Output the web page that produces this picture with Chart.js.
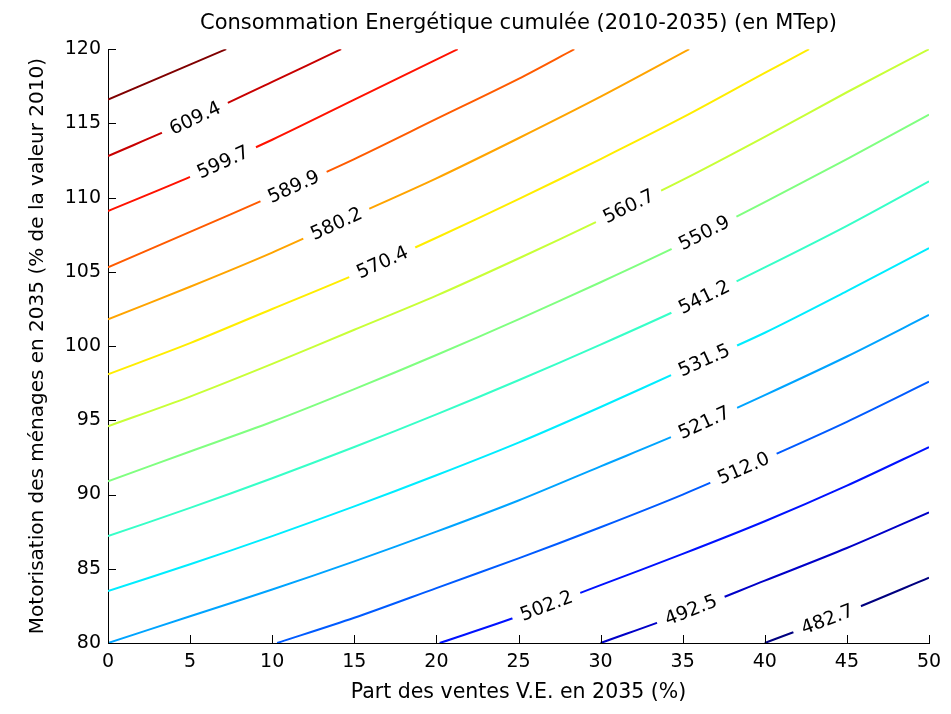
<!DOCTYPE html>
<html>
<head>
<meta charset="utf-8">
<title>Consommation Energétique cumulée (2010-2035)</title>
<script src="https://cdn.jsdelivr.net/npm/chart.js@4.4.1/dist/chart.umd.min.js"></script>
<style>
    html, body { margin: 0; padding: 0; background: #fff; }
    #wrap { width: 951px; height: 714px; position: relative; }
</style>
</head>
<body>
<div id="wrap"><canvas id="chart"></canvas></div>
<script>
// Contour levels (MTep), lowest to highest
const levels = [482.7, 492.5, 502.2, 512.0, 521.7, 531.5, 541.2, 550.9, 560.7, 570.4, 580.2, 589.9, 599.7, 609.4, 619.1];

// jet colours, one per level
const levelColors = ['#000080', '#0000C8', '#0012FF', '#005BFF', '#00A4FF', '#00EDFF', '#37FFC8', '#80FF80',
                     '#C8FF37', '#FFED00', '#FFA400', '#FF5B00', '#FF1200', '#C80000', '#800000'];

// Contour lines: [part V.E. %, motorisation %]
const c4827 = [[40, 80], [45, 82.1], [50, 84.4]];
const c4925 = [[30, 80], [35, 82.0], [40, 84.2], [45, 86.4], [50, 88.8]];
const c5022 = [[20.2, 80], [25, 81.8], [30, 83.9], [35, 86.0], [40, 88.2], [45, 90.6], [50, 93.2]];
const c5120 = [[10.3, 80], [15, 81.7], [20, 83.7], [25, 85.7], [30, 87.8], [35, 90.0], [40, 92.4], [45, 94.9], [50, 97.6]];
const c5217 = [[0, 80], [5, 81.8], [10, 83.6], [15, 85.5], [20, 87.5], [25, 89.6], [30, 91.9], [35, 94.2], [40, 96.7], [45, 99.3], [50, 102.1]];
const c5315 = [[0, 83.5], [5, 85.3], [10, 87.2], [15, 89.2], [20, 91.3], [25, 93.5], [30, 95.9], [35, 98.4], [40, 100.9], [45, 103.7], [50, 106.6]];
const c5412 = [[0, 87.2], [5, 89.1], [10, 91.1], [15, 93.2], [20, 95.4], [25, 97.7], [30, 100.1], [35, 102.6], [40, 105.3], [45, 108.1], [50, 111.1]];
const c5509 = [[0, 90.9], [5, 92.9], [10, 94.9], [15, 97.1], [20, 99.4], [25, 101.8], [30, 104.3], [35, 106.9], [40, 109.7], [45, 112.6], [50, 115.6]];
const c5607 = [[0, 94.6], [5, 96.6], [10, 98.8], [15, 101.1], [20, 103.4], [25, 105.9], [30, 108.5], [35, 111.2], [40, 114.1], [45, 117.1], [50, 120]];
const c5704 = [[0, 98.1], [5, 100.2], [10, 102.5], [15, 104.8], [20, 107.3], [25, 109.9], [30, 112.6], [35, 115.4], [40, 118.4], [42.7, 120]];
const c5802 = [[0, 101.8], [5, 104.0], [10, 106.3], [15, 108.8], [20, 111.3], [25, 114.0], [30, 116.8], [35.4, 120]];
const c5899 = [[0, 105.3], [5, 107.7], [10, 110.1], [15, 112.6], [20, 115.3], [25, 118.0], [28.4, 120]];
const c5997 = [[0, 109.1], [5, 111.4], [10, 113.9], [15, 116.6], [21.3, 120]];
const c6094 = [[0, 112.8], [5, 115.2], [10, 117.8], [14.2, 120]];
const c6191 = [[0, 116.6], [7.2, 120]];

const contours = [c4827, c4925, c5022, c5120, c5217, c5315, c5412, c5509, c5607, c5704, c5802, c5899, c5997, c6094, c6191];

// Where each inline label sits along its line (x value), null = no label
const labelX = [43.8, 35.5, 26.7, 38.7, 36.3, 36.3, 36.3, 36.3, 31.7, 16.7, 13.9, 11.3, 7.0, 5.3, null];

const xTicks = [0, 5, 10, 15, 20, 25, 30, 35, 40, 45, 50];
const yTicks = [80, 85, 90, 95, 100, 105, 110, 115, 120];

const FONT = 'DejaVu Sans';

// Labels written on the lines, with a white gap under them (like clabel)
const contourLabels = {
    id: 'contourLabels',
    afterDatasetsDraw(chart) {
        const { ctx } = chart;
        const xs = chart.scales.x, ys = chart.scales.y;
        ctx.save();
        ctx.font = '19px "' + FONT + '"';
        ctx.textAlign = 'center';
        ctx.textBaseline = 'middle';
        levels.forEach((lev, i) => {
            const lx = labelX[i];
            if (lx == null) return;
            const pts = contours[i];
            let k = 0;
            while (k < pts.length - 2 && pts[k + 1][0] < lx) k++;
            const [x1, y1] = pts[k];
            const [x2, y2] = pts[k + 1];
            const ly = y1 + (lx - x1) / (x2 - x1) * (y2 - y1);
            const px = xs.getPixelForValue(lx);
            const py = ys.getPixelForValue(ly);
            const ang = Math.atan2(ys.getPixelForValue(y2) - ys.getPixelForValue(y1),
                                   xs.getPixelForValue(x2) - xs.getPixelForValue(x1));
            const txt = lev.toFixed(1);
            const w = ctx.measureText(txt).width;
            ctx.save();
            ctx.translate(px, py);
            ctx.rotate(ang);
            ctx.fillStyle = '#fff';
            ctx.fillRect(-w / 2 - 9, -10, w + 18, 20);
            ctx.fillStyle = '#000';
            ctx.fillText(txt, 0, 1);
            ctx.restore();
        });
        ctx.restore();
    }
};

// MATLAB style ticks pointing into the plot
const inwardTicks = {
    id: 'inwardTicks',
    afterDraw(chart) {
        const { ctx, chartArea: a } = chart;
        const xs = chart.scales.x, ys = chart.scales.y;
        ctx.save();
        ctx.strokeStyle = '#000';
        ctx.lineWidth = 1;
        ctx.beginPath();
        xTicks.forEach(v => {
            const p = Math.round(xs.getPixelForValue(v)) + 0.5;
            ctx.moveTo(p, a.bottom);
            ctx.lineTo(p, a.bottom - 8);
        });
        yTicks.forEach(v => {
            const p = Math.round(ys.getPixelForValue(v)) + 0.5;
            ctx.moveTo(a.left, p);
            ctx.lineTo(a.left + 8, p);
        });
        ctx.stroke();
        ctx.restore();
    }
};

const datasets = contours.map((pts, i) => ({
    label: levels[i].toFixed(1),
    data: pts.map(p => ({ x: p[0], y: p[1] })),
    borderColor: levelColors[i],
    backgroundColor: levelColors[i],
    borderWidth: 2,
    pointRadius: 0,
    showLine: true,
    tension: 0.3
}));

new Chart(document.getElementById('chart'), {
    type: 'scatter',
    data: { datasets: datasets },
    options: {
        responsive: true,
        maintainAspectRatio: false,
        animation: false,
        layout: { padding: { left: 0, right: 22, top: 0, bottom: 0 } },
        plugins: {
            legend: { display: false },
            tooltip: { enabled: false },
            title: {
                display: true,
                fullSize: false,
                text: 'Consommation Energétique cumulée (2010-2035) (en MTep)',
                color: '#000',
                font: { family: FONT, size: 21, weight: 'normal' },
                padding: { top: 11, bottom: 13 }
            }
        },
        scales: {
            x: {
                type: 'linear',
                min: 0,
                max: 50,
                afterBuildTicks: s => { s.ticks = xTicks.map(v => ({ value: v })); },
                afterFit: s => { s.height = 71; },
                grid: { display: false, drawTicks: false },
                border: { display: true, color: '#000', width: 1 },
                ticks: { color: '#000', padding: 8, maxRotation: 0, font: { family: FONT, size: 19 } },
                title: {
                    display: true,
                    text: 'Part des ventes V.E. en 2035 (%)',
                    color: '#000',
                    font: { family: FONT, size: 20.5 },
                    padding: { top: 0, bottom: 9 }
                }
            },
            y: {
                type: 'linear',
                min: 80,
                max: 120,
                afterBuildTicks: s => { s.ticks = yTicks.map(v => ({ value: v })); },
                afterFit: s => { s.width = 108; },
                grid: { display: false, drawTicks: false },
                border: { display: true, color: '#000', width: 1 },
                ticks: { color: '#000', padding: 7, font: { family: FONT, size: 19 } },
                title: {
                    display: true,
                    text: 'Motorisation des ménages en 2035 (% de la valeur 2010)',
                    color: '#000',
                    font: { family: FONT, size: 20 },
                    padding: { top: 26, bottom: 0 }
                }
            }
        }
    },
    plugins: [contourLabels, inwardTicks]
});
</script>
</body>
</html>
